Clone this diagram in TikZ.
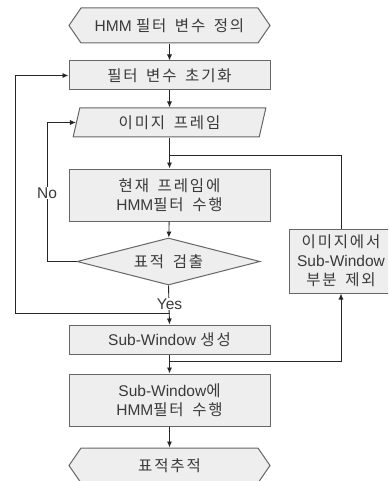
\documentclass[tikz,border=0pt]{standalone}
\usepackage{fontspec}
\setmainfont{Liberation Sans}
\newfontfamily\kr[LetterSpace=12,WordSpace=1.6]{Noto Sans CJK KR}
\usetikzlibrary{shapes.geometric,shapes.symbols,arrows.meta}
\definecolor{boxfill}{HTML}{EEEEEE}
\definecolor{boxline}{HTML}{666666}
\definecolor{txt}{HTML}{3A3A3A}
\tikzset{
  base/.style={draw=boxline, fill=boxfill, line width=1pt, text=txt, font=\fontsize{15.5}{19}\selectfont, align=center, inner sep=0pt},
  proc/.style={base, rectangle, minimum width=201pt, minimum height=29pt},
  term/.style={base, signal, signal to=east and west, signal pointer angle=111, minimum width=201pt, minimum height=35pt},
  io/.style={base, trapezium, trapezium left angle=75, trapezium right angle=105, trapezium stretches=true, minimum width=193pt, minimum height=29pt},
  decide/.style={base, diamond, shape aspect=3.9, minimum width=183pt, minimum height=47pt},
  conn/.style={draw=black!85, line width=0.9pt},
  arr/.style={conn, -{Latex[length=6pt,width=5pt]}},
  lbl/.style={fill=white, text=txt, font=\fontsize{15.5}{19}\selectfont, inner sep=0.5pt}
}
\begin{document}
\begin{tikzpicture}[x=1pt,y=-1pt]
    \useasboundingbox (0,0) rectangle (388,481);
    \clip (0,0) rectangle (388,481);
    \fill[white] (0,0) rectangle (388,481);
    \node[term] (Define) at (169.5,25.5) {HMM {\kr 필터 변수 정의}};
    \node[proc] (Init) at (169.5,75.5) {\kr 필터 변수 초기화};
    \node[io] (Frame) at (169.5,122.5) {\kr 이미지 프레임};
    \node[proc, minimum height=52pt] (Filter) at (169.5,195) {{\kr 현재 프레임에}\\HMM{\kr 필터 수행}};
    \node[decide] (Detect) at (168.5,261.5) {\kr 표적 검출};
    \node[proc] (SubWin) at (169.5,339.5) {Sub-Window {\kr 생성}};
    \node[proc, minimum height=52pt] (SubFilter) at (169.5,400) {Sub-Window{\kr 에}\\HMM{\kr 필터 수행}};
    \node[term] (Track) at (169.5,465.5) {\kr 표적추적};
    \node[proc, minimum width=104pt, minimum height=64pt] (Remove) at (341,261) {{\kr 이미지에서}\\Sub-Window\\{\kr 부분 제외}};
	%
    \coordinate (FrameJoin) at (169.5,155);
    \coordinate (YesJoin) at (169.5,313);
    \coordinate (SubJoin) at (169.5,361);
	%
  	\draw[arr] (Define) to (Init);
  	\draw[arr] (Init) to (Frame);
  	\draw[arr] (Frame) to (Filter);
  	\draw[conn] (Remove.north) |- (FrameJoin);
  	\draw[arr] (Filter) to (Detect);
  	%
  	\draw[arr] (Detect.west) -- ++(-29,0) |- (Frame.west);
  	\node[lbl] (No) at (47,193) {No};
  	%
  	\draw[arr] (Detect.south) to (SubWin.north);
  	\node[lbl] (Yes) at (169.5,304) {Yes};
  	\draw[arr] (YesJoin) -- ++(-154.5,0) |- (Init.west);
  	%
  	\draw[arr] (SubWin) to (SubFilter);
  	\draw[arr] (SubJoin) -| (Remove.south);
  	\draw[arr] (SubFilter) to (Track);
\end{tikzpicture}
\end{document}
